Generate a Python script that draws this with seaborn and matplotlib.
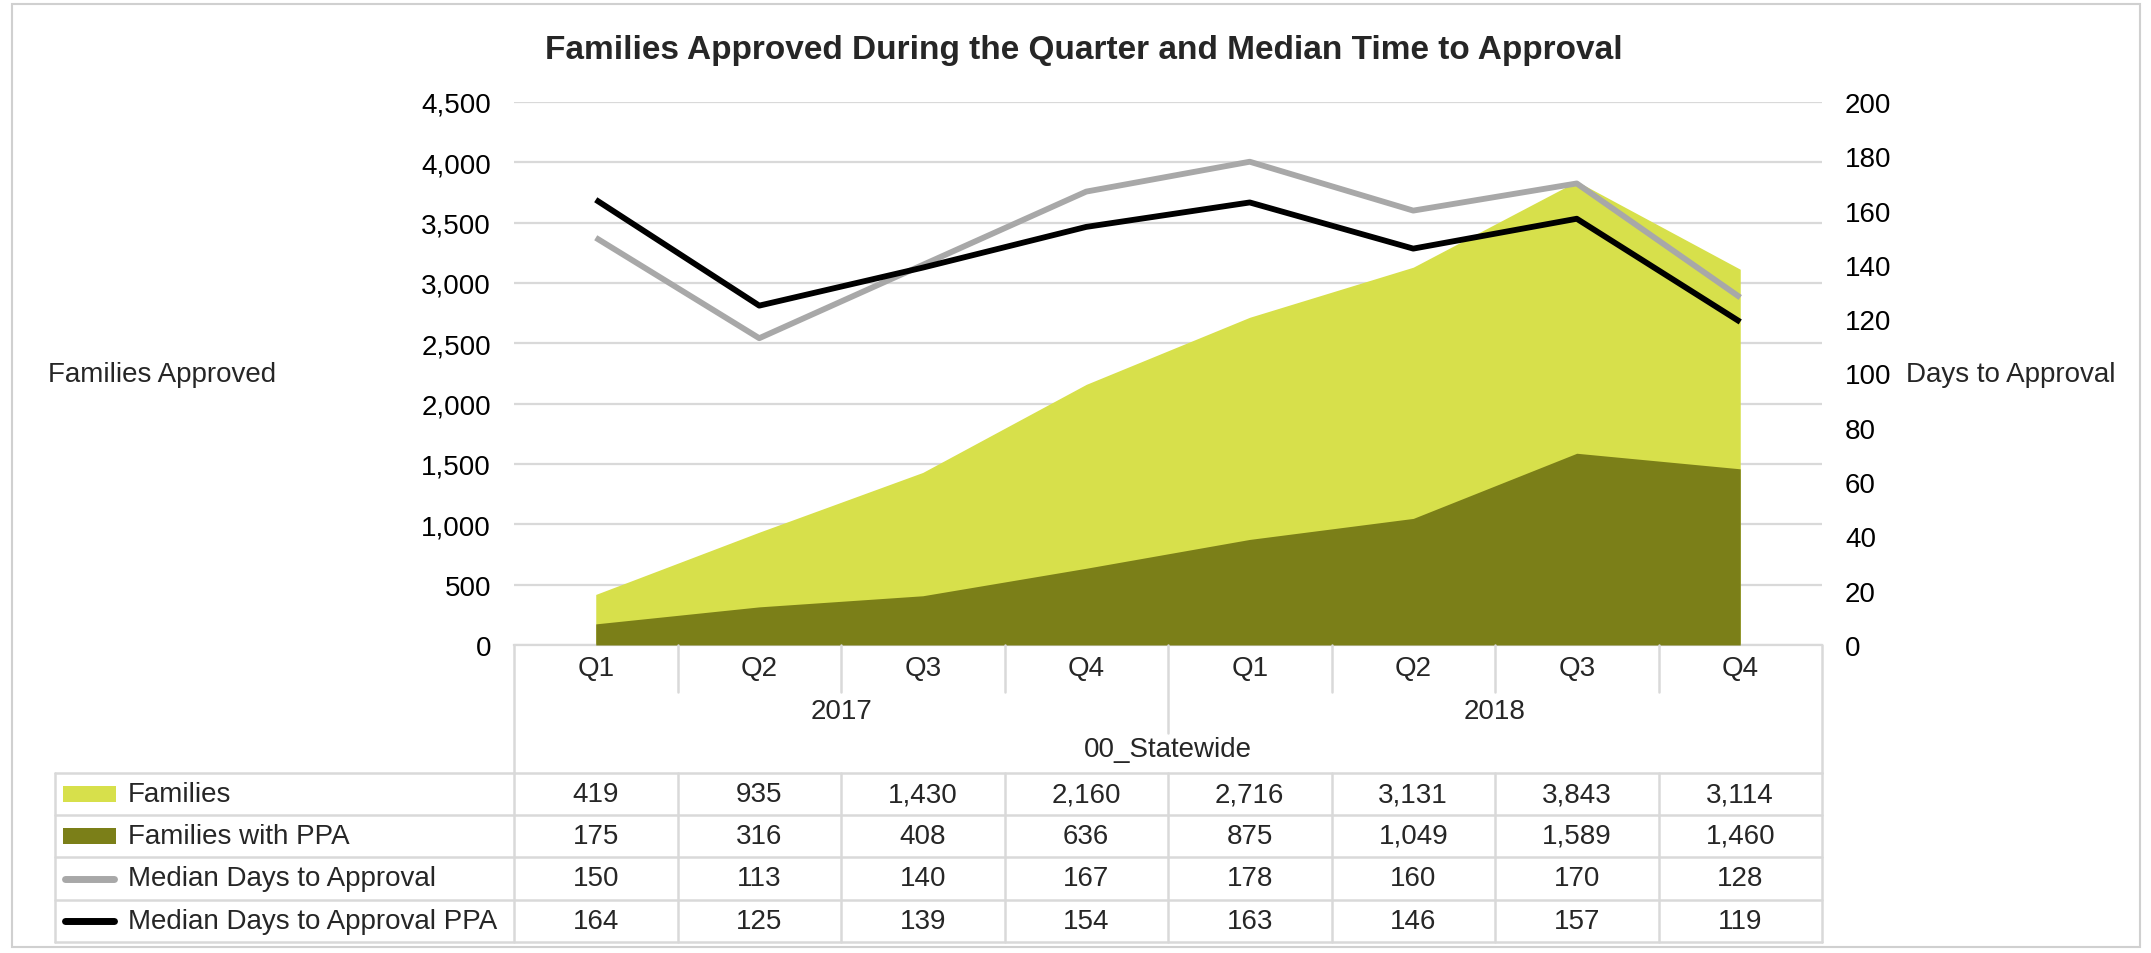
import numpy as np
import pandas as pd
import matplotlib
matplotlib.use("Agg")
import matplotlib.pyplot as plt
from matplotlib.lines import Line2D
from matplotlib.patches import Rectangle
from matplotlib.ticker import FuncFormatter, MultipleLocator
import seaborn as sns

# ---------------- data ----------------
quarters = ["Q1", "Q2", "Q3", "Q4", "Q1", "Q2", "Q3", "Q4"]
years = ["2017", "2018"]
region = "00_Statewide"
families = [419, 935, 1430, 2160, 2716, 3131, 3843, 3114]
families_ppa = [175, 316, 408, 636, 875, 1049, 1589, 1460]
median_days = [150, 113, 140, 167, 178, 160, 170, 128]
median_days_ppa = [164, 125, 139, 154, 163, 146, 157, 119]
series_names = ["Families", "Families with PPA",
                "Median Days to Approval", "Median Days to Approval PPA"]

# ---------------- style ----------------
sns.set_theme(style="white")
plt.rcParams["font.family"] = ["Liberation Sans", "DejaVu Sans"]

C_FAM = "#D7E04B"
C_PPA = "#7B7F18"
C_GRAY = "#A8A8A8"
C_BLACK = "#000000"
C_GRID = "#D9D9D9"
FS = 20

W, H = 2151, 954
fig = plt.figure(figsize=(W / 100, H / 100), dpi=100)
fig.patch.set_facecolor("white")

def fx(x):
    return x / W

def fy(y):
    return 1 - y / H

L, R, T, B = 514, 1822, 103, 646
ax = fig.add_axes([fx(L), fy(B), fx(R - L), (B - T) / H])
ax2 = ax.twinx()

n = len(quarters)
xs = np.arange(n)
df = pd.DataFrame({"x": xs, "families": families, "ppa": families_ppa,
                   "days": median_days, "days_ppa": median_days_ppa})

# areas (overlapping, not stacked)
ax.fill_between(df["x"], df["families"], color=C_FAM, linewidth=0, zorder=2)
ax.fill_between(df["x"], df["ppa"], color=C_PPA, linewidth=0, zorder=3)
sns.lineplot(data=df, x="x", y="families", ax=ax, color=C_FAM, linewidth=0, zorder=2)

ax.set_xlim(-0.5, n - 0.5)
ax.set_ylim(0, 4500)
ax.yaxis.set_major_locator(MultipleLocator(500))
ax.yaxis.set_major_formatter(FuncFormatter(lambda v, p: f"{int(v):,}"))
ax.grid(axis="y", color=C_GRID, linewidth=1.6, zorder=0)
ax.grid(axis="x", visible=False)
ax.set_axisbelow(True)
ax.set_xticks([])
ax.set_xlabel("")
ax.set_ylabel("")
for s in ["top", "right", "left"]:
    ax.spines[s].set_visible(False)
ax.spines["bottom"].set_color(C_GRID)
ax.spines["bottom"].set_linewidth(1.6)
ax.tick_params(axis="y", labelsize=FS, length=0, pad=16.5, colors="black")

# lines on secondary axis
sns.lineplot(data=df, x="x", y="days", ax=ax2, color=C_GRAY, linewidth=4.2,
             solid_capstyle="butt")
sns.lineplot(data=df, x="x", y="days_ppa", ax=ax2, color=C_BLACK, linewidth=4.2,
             solid_capstyle="butt")
ax2.set_ylim(0, 200)
ax2.yaxis.set_major_locator(MultipleLocator(20))
ax2.set_xlim(-0.5, n - 0.5)
ax2.set_xticks([])
ax2.set_xlabel("")
ax2.set_ylabel("")
ax2.grid(False)
for s in ax2.spines.values():
    s.set_visible(False)
ax2.tick_params(axis="y", labelsize=FS, length=0, pad=16.5, colors="black")

# title and axis labels
fig.text(fx(1084), fy(51), "Families Approved During the Quarter and Median Time to Approval",
         ha="center", va="center", fontsize=24, fontweight="bold")
fig.text(fx(48), fy(375), "Families Approved", ha="left", va="center", fontsize=FS)
fig.text(fx(1906), fy(375), "Days to Approval", ha="left", va="center", fontsize=FS)

# ---------------- data table ----------------
cw = (R - L) / n
col_edges = [L + i * cw for i in range(n + 1)]
col_centers = [L + (i + 0.5) * cw for i in range(n)]

def hline(x0, x1, y, lw=1.8):
    fig.add_artist(Line2D([fx(x0), fx(x1)], [fy(y), fy(y)], color=C_GRID, lw=lw,
                          transform=fig.transFigure))

def vline(x, y0, y1, lw=1.8):
    fig.add_artist(Line2D([fx(x), fx(x)], [fy(y0), fy(y1)], color=C_GRID, lw=lw,
                          transform=fig.transFigure))

# header area
for i, q in enumerate(quarters):
    fig.text(fx(col_centers[i]), fy(669), q, ha="center", va="center", fontsize=FS)
for i in range(1, n):
    if i == 4:
        vline(col_edges[i], B, 734)
    else:
        vline(col_edges[i], B, 693)
vline(L, B, 774)
vline(R, B, 774)
for k, yr in enumerate(years):
    cx = (col_edges[k * 4] + col_edges[k * 4 + 4]) / 2
    fig.text(fx(cx), fy(712), yr, ha="center", va="center", fontsize=FS)
fig.text(fx((L + R) / 2), fy(750), region, ha="center", va="center", fontsize=FS)

# body
row_edges = [774, 816, 858, 901, 943]
LEG_L = 55
for y in row_edges:
    hline(LEG_L, R, y)
for x in [LEG_L] + col_edges:
    vline(x, row_edges[0], row_edges[-1])

rows = [families, families_ppa, median_days, median_days_ppa]
for r, (name, vals) in enumerate(zip(series_names, rows)):
    yc = (row_edges[r] + row_edges[r + 1]) / 2
    if r < 2:
        col = C_FAM if r == 0 else C_PPA
        fig.add_artist(Rectangle((fx(63), fy(yc + 8)), fx(116) - fx(63), 16 / H,
                                 color=col, transform=fig.transFigure, lw=0))
    else:
        col = C_GRAY if r == 2 else C_BLACK
        fig.add_artist(Line2D([fx(65), fx(114)], [fy(yc), fy(yc)], color=col, lw=5,
                              solid_capstyle="round", transform=fig.transFigure))
    fig.text(fx(128), fy(yc), name, ha="left", va="center", fontsize=FS)
    for i, v in enumerate(vals):
        fig.text(fx(col_centers[i]), fy(yc), f"{v:,}", ha="center", va="center", fontsize=FS)

# outer frame
fig.add_artist(Rectangle((fx(12), fy(948)), fx(2140) - fx(12), (948 - 5) / H,
                         fill=False, edgecolor="#D0D0D0", lw=1.5,
                         transform=fig.transFigure))

fig.savefig("out.png", dpi=100, facecolor="white")
